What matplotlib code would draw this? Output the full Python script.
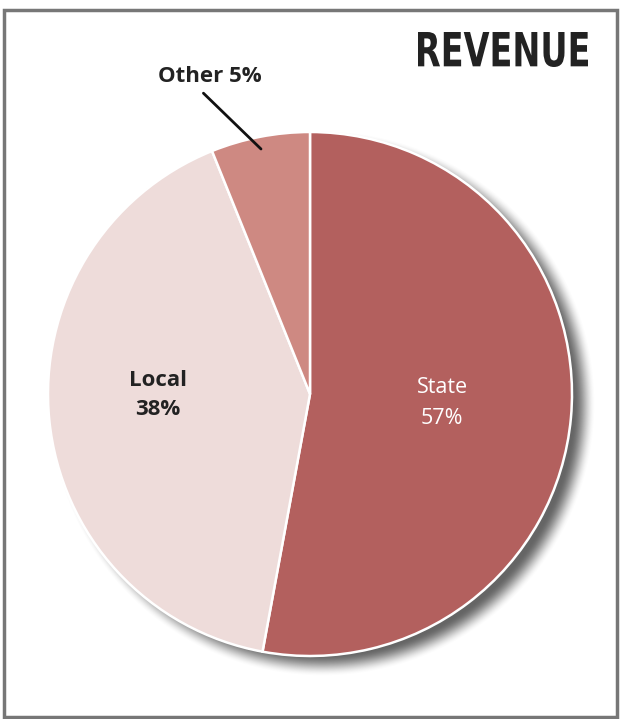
import numpy as np
import matplotlib.pyplot as plt
from matplotlib.patches import Rectangle, PathPatch
from matplotlib.textpath import TextPath
from matplotlib.font_manager import FontProperties
from matplotlib.transforms import Affine2D

# data (slice sizes as drawn in the picture, labels as printed)
labels = ["State", "Local", "Other"]
shares = [52.9, 41.0, 6.1]
label_pct = ["57%", "38%", "5%"]
colors = ["#B3605E", "#EEDCDA", "#CE8982"]
title = "REVENUE"

W, H = 621, 719
fig = plt.figure(figsize=(W / 100, H / 100), dpi=100, facecolor="white")
ax = fig.add_axes([0, 0, 1, 1])

cx, cy, r = 310, H - 394, 262

# soft drop shadow, offset down-right
yy, xx = np.mgrid[0:H, 0:W]
d = np.hypot(xx - (cx + 12), (H - yy) - (cy - 9))
blur = 11.0
a = np.clip((r + blur - d) / (2 * blur), 0, 1)
a = a * a * (3 - 2 * a) * 0.9
img = np.zeros((H, W, 4))
img[..., :3] = 0.33
img[..., 3] = a
ax.imshow(img, extent=(0, W, 0, H), origin="upper", zorder=1)

wedges, _ = ax.pie(shares, colors=colors, startangle=90, counterclock=False,
                   center=(cx, cy), radius=r, frame=True,
                   wedgeprops=dict(edgecolor="white", linewidth=1.8))
for w in wedges:
    w.set_zorder(2)
ax.set_xlim(0, W)
ax.set_ylim(0, H)
ax.set_aspect("equal")
ax.axis("off")

# labels
ax.text(442, H - 403, labels[0] + "\n" + label_pct[0], color="white",
        fontsize=15.5, family="Open Sans", linespacing=1.6,
        ha="center", va="center", zorder=3)
ax.text(158, H - 395, labels[1] + "\n" + label_pct[1], color="#222222",
        fontsize=16, family="Open Sans", fontweight="bold", linespacing=1.5,
        ha="center", va="center", zorder=3)
ax.annotate(labels[2] + " " + label_pct[2], xy=(261, H - 149), xytext=(210, H - 77),
            fontsize=16, family="Open Sans", fontweight="bold", color="#222222",
            ha="center", va="center", zorder=3,
            arrowprops=dict(arrowstyle="-", color="#111111", lw=2,
                            relpos=(0.38, 0.0), shrinkA=3, shrinkB=0))

# condensed title drawn as a squeezed text path
tp = TextPath((0, 0), title, size=40,
              prop=FontProperties(family="DejaVu Sans", weight="bold"))
ext = tp.get_extents()
sx = 170 / ext.width
sy = 35 / ext.height
tr = Affine2D().translate(-ext.x0, -ext.y0).scale(sx, sy).translate(418, H - 67)
ax.add_patch(PathPatch(tr.transform_path(tp), color="#222222", lw=0, zorder=3))

# outer frame
ax.add_patch(Rectangle((4, H - 717), 613, 707, fill=False,
                       edgecolor="#777777", lw=2.5, zorder=4))

fig.savefig("out.png", dpi=100, facecolor="white")
